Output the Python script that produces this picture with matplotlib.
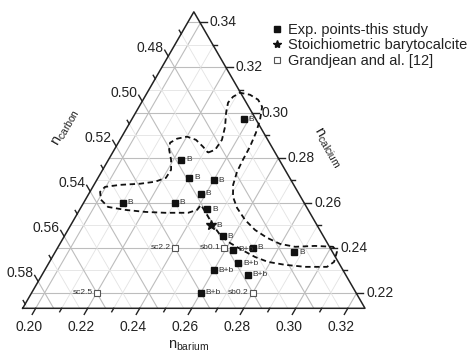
import numpy as np
import matplotlib
matplotlib.use('Agg')
import matplotlib.pyplot as plt
from matplotlib.lines import Line2D

plt.rcParams['font.family'] = ['Liberation Sans', 'DejaVu Sans']
plt.rcParams['mathtext.fontset'] = 'custom'
plt.rcParams['mathtext.rm'] = 'Liberation Sans'
plt.rcParams['mathtext.it'] = 'Liberation Sans'

# ---- ternary axis ranges (mole fractions) ----
BA_MIN, CA_MIN, SPAN = 0.195, 0.2131, 0.1316
C_MIN = 1 - SPAN - BA_MIN - CA_MIN

# ---- data: (barium, calcium) fractions; carbon = 1 - Ba - Ca ----
exp_ba = [0.238, 0.223, 0.230, 0.240, 0.238, 0.210, 0.230, 0.244,
          0.256, 0.263, 0.270, 0.287, 0.268, 0.260, 0.274, 0.260]
exp_ca = [0.297, 0.279, 0.271, 0.270, 0.264, 0.260, 0.260, 0.257,
          0.245, 0.239, 0.240, 0.238, 0.233, 0.230, 0.228, 0.220]
exp_lbl = ['B', 'B', 'B', 'B', 'B', 'B', 'B', 'B',
           'B', 'B+b', 'B', 'B', 'B+b', 'B+b', 'B+b', 'B+b']

star_ba = [0.249]
star_ca = [0.250]
star_lbl = ['B']

gj_ba = [0.240, 0.220, 0.259, 0.280]
gj_ca = [0.240, 0.220, 0.240, 0.220]
gj_lbl = ['sc2.2', 'sc2.5', 'sb0.1', 'sb0.2']

bnd_ba = [0.2317, 0.2338, 0.2342, 0.2325, 0.2298, 0.2283, 0.2289, 0.2307, 0.2350, 0.2392,
          0.2423, 0.2444, 0.2457, 0.2465, 0.2467, 0.2471, 0.2485, 0.2511, 0.2551, 0.2608,
          0.2669, 0.2733, 0.2796, 0.2861, 0.2935, 0.3007, 0.3033, 0.3044, 0.3028, 0.2944,
          0.2862, 0.2790, 0.2729, 0.2664, 0.2602, 0.2546, 0.2496, 0.2451, 0.2406, 0.2402,
          0.2374, 0.2285, 0.2206, 0.2125, 0.2053, 0.2010, 0.1989, 0.1997, 0.2050, 0.2125,
          0.2178, 0.2211, 0.2213, 0.2191, 0.2161, 0.2149, 0.2167, 0.2201, 0.2242, 0.2285]
bnd_ca = [0.2822, 0.2835, 0.2879, 0.2937, 0.2999, 0.3044, 0.3070, 0.3088, 0.3079, 0.3057,
          0.3026, 0.2968, 0.2910, 0.2848, 0.2790, 0.2737, 0.2679, 0.2626, 0.2577, 0.2524,
          0.2479, 0.2444, 0.2417, 0.2404, 0.2408, 0.2404, 0.2381, 0.2337, 0.2315, 0.2315,
          0.2324, 0.2337, 0.2359, 0.2390, 0.2421, 0.2457, 0.2501, 0.2546, 0.2590, 0.2568,
          0.2555, 0.2555, 0.2559, 0.2568, 0.2581, 0.2613, 0.2648, 0.2670, 0.2679, 0.2684,
          0.2693, 0.2710, 0.2746, 0.2790, 0.2835, 0.2866, 0.2884, 0.2893, 0.2879, 0.2848]

bottom_ticks = [0.20, 0.22, 0.24, 0.26, 0.28, 0.30, 0.32]   # barium
left_ticks = [0.48, 0.50, 0.52, 0.54, 0.56, 0.58]           # carbon
right_ticks = [0.22, 0.24, 0.26, 0.28, 0.30, 0.32, 0.34]    # calcium

H = np.sqrt(3) / 2
TXT = '#222222'


def tern(ba, ca):
    b = (np.asarray(ba, float) - BA_MIN) / SPAN
    c = (np.asarray(ca, float) - CA_MIN) / SPAN
    return b + c / 2, c * H


W_PX, H_PX = 470, 353
SIDE_PX = 342.3
fig = plt.figure(figsize=(W_PX / 100, H_PX / 100), dpi=100)
ax = fig.add_axes([22.7 / W_PX, (H_PX - 308.3) / H_PX, SIDE_PX / W_PX, SIDE_PX * H / H_PX])
ax.set_xlim(0, 1)
ax.set_ylim(0, H)
ax.axis('off')
PX = 1 / SIDE_PX

# ---- grid ----
def hund(lo, hi):
    return [k / 100 for k in range(int(round(lo * 100)), int(round(hi * 100)) + 1)]

for v in hund(0.19, 0.33):  # barium lines
    b = (v - BA_MIN) / SPAN
    if 0 < b < 1:
        major = round(v * 100) % 2 == 0
        ax.plot([b, b + (1 - b) / 2], [0, (1 - b) * H], color='#bdbdbd' if major else '#e3e3e3',
                lw=0.8 if major else 0.6, zorder=1)
for v in hund(0.21, 0.35):  # calcium lines
    c = (v - CA_MIN) / SPAN
    if 0 < c < 1:
        major = round(v * 100) % 2 == 0
        ax.plot([c / 2, 1 - c / 2], [c * H, c * H], color='#bdbdbd' if major else '#e3e3e3',
                lw=0.8 if major else 0.6, zorder=1)
for v in hund(0.46, 0.60):  # carbon lines
    a = (v - C_MIN) / SPAN
    if 0 < a < 1:
        major = round(v * 100) % 2 == 0
        ax.plot([1 - a, (1 - a) / 2], [0, (1 - a) * H], color='#bdbdbd' if major else '#e3e3e3',
                lw=0.8 if major else 0.6, zorder=1)

# ---- triangle frame ----
ax.plot([0, 1, 0.5, 0], [0, 0, H, 0], color=TXT, lw=1.1, zorder=3, clip_on=False)

# ---- ticks ----
def draw_tick(p, d, major):
    L = (7 if major else 4) * PX
    ax.plot([p[0], p[0] + d[0] * L], [p[1], p[1] + d[1] * L], color=TXT, lw=1.0,
            zorder=3, clip_on=False)

d_bot = (-0.5, -H)
d_right = (1.0, 0.0)
d_left = (-0.5, H)
for v in hund(0.19, 0.33):
    b = (v - BA_MIN) / SPAN
    if 0 < b < 1:
        draw_tick((b, 0), d_bot, round(v * 100) % 2 == 0)
for v in hund(0.21, 0.35):
    c = (v - CA_MIN) / SPAN
    if 0 < c <= 1.0001:
        draw_tick((1 - c / 2, c * H), d_right, round(v * 100) % 2 == 0)
for v in hund(0.46, 0.60):
    a = (v - C_MIN) / SPAN
    if 0 < a < 1:
        draw_tick(((1 - a) / 2, (1 - a) * H), d_left, round(v * 100) % 2 == 0)

for v in bottom_ticks:
    b = (v - BA_MIN) / SPAN
    ax.text(b + d_bot[0] * 13 * PX, d_bot[1] * 13 * PX, f'{v:.2f}', ha='center', va='top',
            fontsize=10, color=TXT, clip_on=False)
for v in right_ticks:
    c = (v - CA_MIN) / SPAN
    ax.text(1 - c / 2 + 10 * PX, c * H, f'{v:.2f}', ha='left', va='center',
            fontsize=10, color=TXT, clip_on=False)
for v in left_ticks:
    a = (v - C_MIN) / SPAN
    ax.text((1 - a) / 2 + d_left[0] * 10 * PX, (1 - a) * H + d_left[1] * 10 * PX, f'{v:.2f}',
            ha='right', va='center', fontsize=10, color=TXT, clip_on=False)

# ---- axis titles ----
fig.text(188 / W_PX, 1 - 346 / H_PX, r'$\mathregular{n_{barium}}$', ha='center', va='center',
         fontsize=10.5, color=TXT)
fig.text(66 / W_PX, 1 - 128 / H_PX, r'$\mathregular{n_{carbon}}$', ha='center', va='center',
         fontsize=10.5, color=TXT, rotation=60)
fig.text(327 / W_PX, 1 - 148 / H_PX, r'$\mathregular{n_{calcium}}$', ha='center', va='center',
         fontsize=10.5, color=TXT, rotation=-60)

# ---- boundary (dashed) ----
bx, by = tern(bnd_ba + bnd_ba[:1], bnd_ca + bnd_ca[:1])
ax.plot(bx, by, color='#111111', lw=1.3, dashes=(3, 2), zorder=4, clip_on=False)

# ---- points ----
ex, ey = tern(exp_ba, exp_ca)
ax.plot(ex, ey, 's', color='#111111', ms=5, zorder=5, clip_on=False)
for x, y, t in zip(ex, ey, exp_lbl):
    ax.annotate(t, (x, y), xytext=(5, 0), textcoords='offset pixels', ha='left', va='center',
                fontsize=6, color='#333333', zorder=6)

sx, sy = tern(star_ba, star_ca)
ax.plot(sx, sy, '*', color='#111111', ms=7, zorder=5)
for x, y, t in zip(sx, sy, star_lbl):
    ax.annotate(t, (x, y), xytext=(5, 0), textcoords='offset pixels', ha='left', va='center',
                fontsize=6, color='#333333', zorder=6)

gx, gy = tern(gj_ba, gj_ca)
ax.plot(gx, gy, 's', mfc='white', mec='#555555', mew=0.8, ms=4.5, zorder=5)
for x, y, t in zip(gx, gy, gj_lbl):
    ax.annotate(t, (x, y), xytext=(-4, 0), textcoords='offset pixels', ha='right', va='center',
                fontsize=6, color='#333333', zorder=6)

# ---- legend ----
handles = [Line2D([], [], ls='none', marker='s', color='#111111', ms=4),
           Line2D([], [], ls='none', marker='*', color='#111111', ms=6),
           Line2D([], [], ls='none', marker='s', mfc='white', mec='#555555', mew=0.8, ms=4)]
labels = ['Exp. points-this study', 'Stoichiometric barytocalcite', 'Grandjean and al. [12]']
leg = fig.legend(handles, labels, loc='upper left', bbox_to_anchor=(271 / W_PX, 1 - 23 / H_PX),
                 frameon=False, fontsize=10.5, handlelength=0.8, handletextpad=0.4,
                 labelspacing=0.1, borderpad=0, borderaxespad=0)
for t in leg.get_texts():
    t.set_color(TXT)

fig.savefig('out.png', dpi=100)
